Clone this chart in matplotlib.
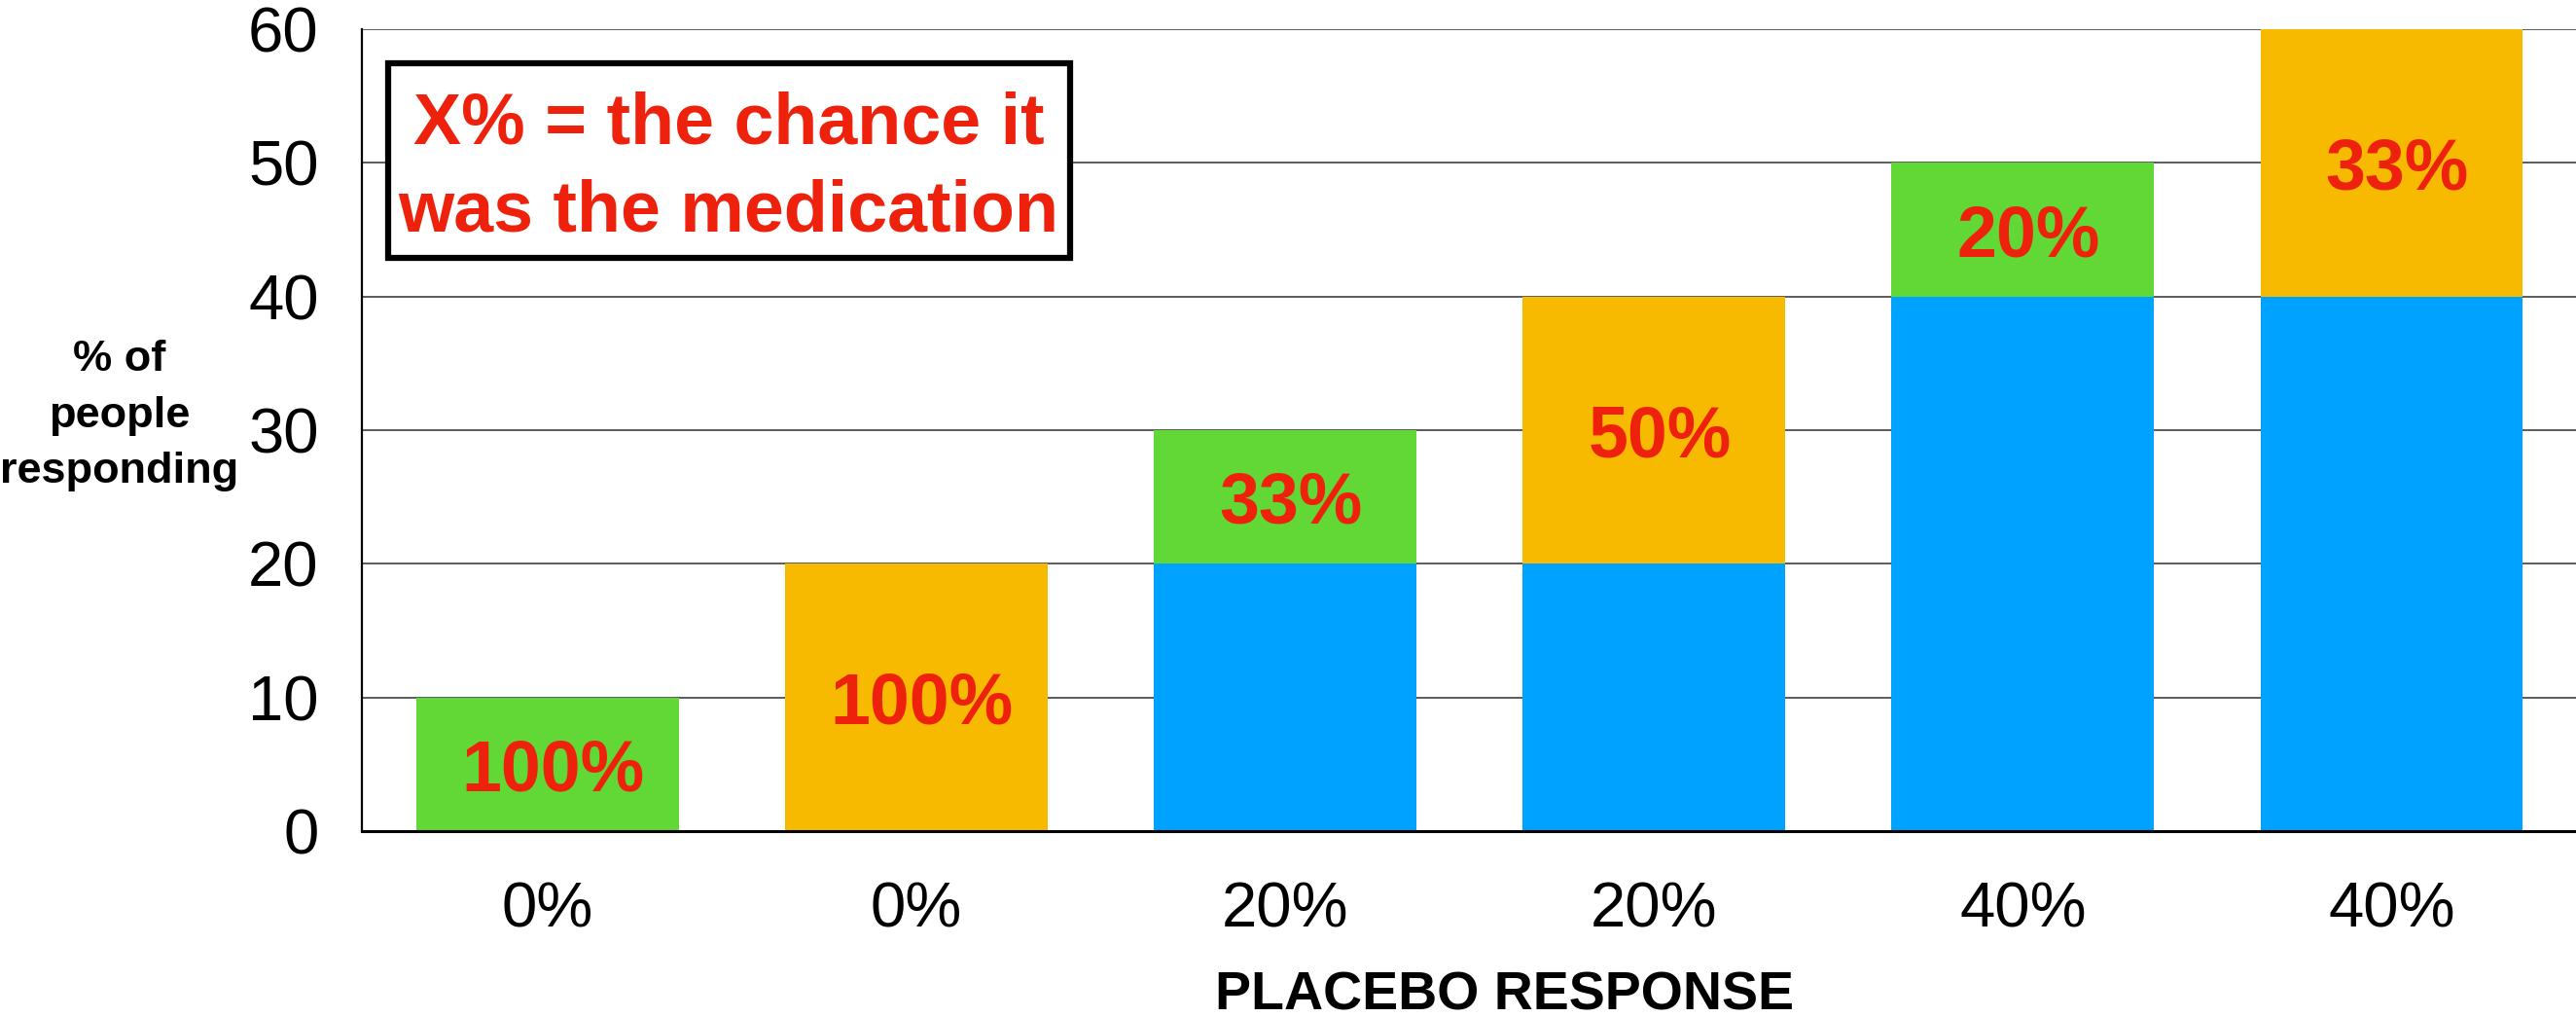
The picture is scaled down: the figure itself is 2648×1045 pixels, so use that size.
import matplotlib
matplotlib.use("Agg")
import matplotlib.pyplot as plt
from matplotlib.patches import Rectangle

plt.rcParams['font.family'] = ['Liberation Sans', 'DejaVu Sans']

# Placebo response rate for each scenario (x tick labels)
placebo_labels = ["0%", "0%", "20%", "20%", "40%", "40%"]
# % of people responding: placebo part and extra part due to the medication
placebo_part = [0, 0, 20, 20, 40, 40]
medication_part = [10, 20, 10, 20, 10, 20]
y_ticks = [0, 10, 20, 30, 40, 50, 60]

BLUE = "#00A2FF"
GREEN = "#61D836"
ORANGE = "#F7BA00"
RED = "#EE220C"
top_colors = [GREEN, ORANGE, GREEN, ORANGE, GREEN, ORANGE]

W, H = 2648, 1045
fig = plt.figure(figsize=(W / 100, H / 100), dpi=100)
ax = fig.add_axes([372 / W, 191 / H, (W - 372) / W, (1015 - 191) / H])

x = list(range(len(placebo_labels)))
bar_w = 0.712
ax.bar(x, placebo_part, width=bar_w, color=BLUE, zorder=2, linewidth=0)
ax.bar(x, medication_part, width=bar_w, bottom=placebo_part,
       color=top_colors, zorder=2, linewidth=0, clip_on=False)

# chance that the response was due to the medication
for xi, p, m in zip(x, placebo_part, medication_part):
    share = round(100 * m / (p + m))
    ax.text(xi + 0.015, p + m / 2, f"{share}%", ha="center",
            va="center_baseline", fontsize=53, fontweight="bold",
            color=RED, zorder=3)

ax.set_xlim(-0.504, 5.5)
ax.set_ylim(0, 60)
ax.set_yticks(y_ticks)
ax.set_xticks(x)
ax.set_xticklabels(placebo_labels)
ax.yaxis.grid(True, color="#404040", linewidth=1.2)
ax.set_axisbelow(True)
ax.tick_params(axis="both", length=0, labelsize=47)
ax.tick_params(axis="y", pad=32)
ax.tick_params(axis="x", pad=37)

for side in ("top", "right"):
    ax.spines[side].set_visible(False)
ax.spines["left"].set_linewidth(1.6)
ax.spines["bottom"].set_linewidth(2.2)

# y axis title
fig.text(123 / W, 1 - 427 / H, "% of\npeople\nresponding", ha="center",
         va="center", multialignment="center", fontsize=32.5,
         fontweight="bold", linespacing=1.52)
# x axis title
fig.text(1546 / W, 1 - 1038 / H, "PLACEBO RESPONSE", ha="center",
         va="baseline", fontsize=40, fontweight="bold")

# explanatory box
box = Rectangle((399 / W, 1 - 265 / H), 701 / W, 200 / H,
                transform=fig.transFigure, facecolor="white",
                edgecolor="black", linewidth=4.5, zorder=5)
fig.add_artist(box)
fig.text(749 / W, 1 - 148 / H, "X% = the chance it", ha="center",
         va="baseline", fontsize=53, fontweight="bold", color=RED, zorder=6)
fig.text(749 / W, 1 - 238 / H, "was the medication", ha="center",
         va="baseline", fontsize=53, fontweight="bold", color=RED, zorder=6)

fig.savefig("out.png", dpi=100, facecolor="white")
